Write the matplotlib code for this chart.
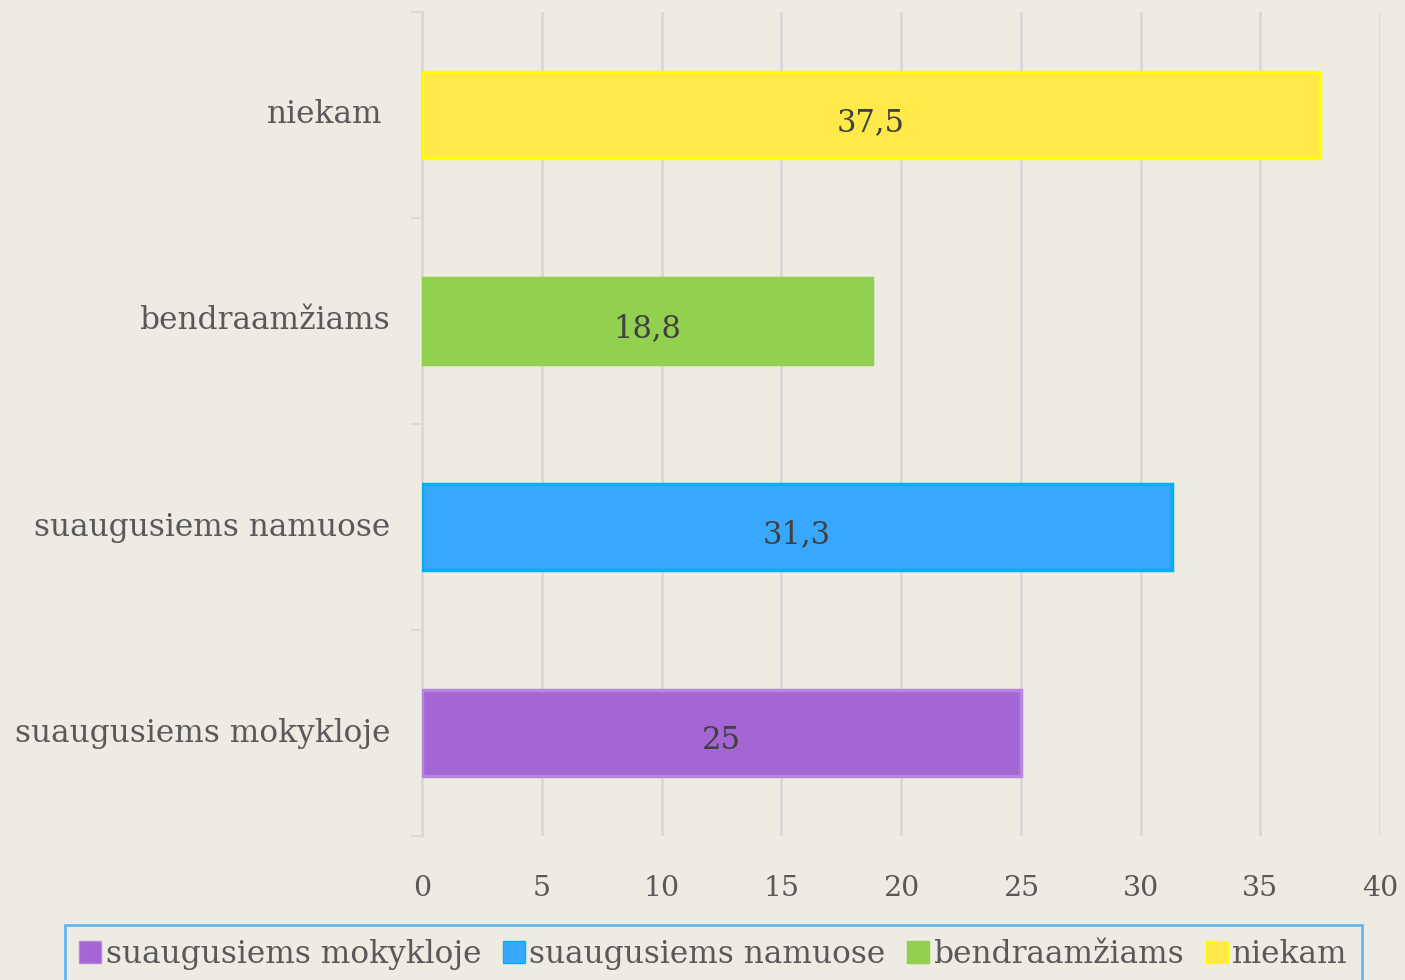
import numpy as np
import matplotlib.pyplot as plt

categories = ['suaugusiems mokykloje', 'suaugusiems namuose', 'bendraamžiams', 'niekam']
values = [25, 31.3, 18.8, 37.5]
value_labels = ['25', '31,3', '18,8', '37,5']
face_colors = ['#A366D3', '#38A8FF', '#92D050', '#FFE84A']
edge_colors = ['#B784E0', '#00B0F0', '#92D050', '#FFFF00']
x_ticks = [0, 5, 10, 15, 20, 25, 30, 35, 40]

BG = '#EEEBE3'
FONT = ['DejaVu Serif']


def main():
    plt.rcParams['font.family'] = FONT
    fig = plt.figure(figsize=(14.05, 9.8), dpi=100, facecolor=BG)
    ax = fig.add_axes([0.3004, 0.1469, 0.6818, 0.8409], facecolor=BG)

    y = np.arange(len(categories))
    bars = ax.barh(y, values, height=0.42, color=face_colors,
                   edgecolor=edge_colors, linewidth=2.5, zorder=3)

    # value labels sit a little below the bar centre
    for i, b in enumerate(bars):
        ax.text(values[i] / 2, y[i] - 0.035, value_labels[i], ha='center', va='center',
                fontsize=22, color='#404040', zorder=4)

    ax.set_xlim(0, 40)
    ax.set_ylim(-0.5, len(categories) - 0.5)
    ax.set_xticks(x_ticks)
    ax.set_xticklabels([str(t) for t in x_ticks], fontsize=20.5, color='#595959')
    ax.tick_params(axis='x', length=0, pad=28)

    # category labels as text, ticks at category boundaries
    ax.set_yticks(np.arange(-0.5, len(categories), 1.0))
    ax.set_yticklabels([])
    ax.tick_params(axis='y', length=8, width=1.5, color='#D9D9D9', direction='out')
    for i, c in enumerate(categories):
        off = 8 if c == 'niekam' else 0
        ax.text(-(32 + off) / 958, y[i], c, transform=ax.get_yaxis_transform(),
                ha='right', va='center', fontsize=22.5, color='#595959')

    ax.grid(axis='x', color='#D9D9D9', linewidth=2, zorder=0)
    for s in ['top', 'right', 'bottom']:
        ax.spines[s].set_visible(False)
    ax.spines['left'].set_color('#D9D9D9')
    ax.spines['left'].set_linewidth(2)

    handles = [plt.Rectangle((0, 0), 1, 1, facecolor=face_colors[i], edgecolor=edge_colors[i])
               for i in range(len(categories))]
    leg = fig.legend(handles, categories, loc='upper left',
                     bbox_to_anchor=(65 / 1405, 1 - 925 / 980, 1297 / 1405, 0),
                     mode='expand', ncol=4, fontsize=22.5, frameon=True, fancybox=False,
                     handlelength=0.7, handleheight=0.7, handletextpad=0.15,
                     columnspacing=0.4, borderpad=0.45, borderaxespad=0,
                     labelcolor='#595959')
    leg.get_frame().set_edgecolor('#3FA9F5')
    leg.get_frame().set_linewidth(2)
    leg.get_frame().set_facecolor(BG)

    fig.savefig('out.png', dpi=100, facecolor=BG)


if __name__ == "__main__":
    main()
